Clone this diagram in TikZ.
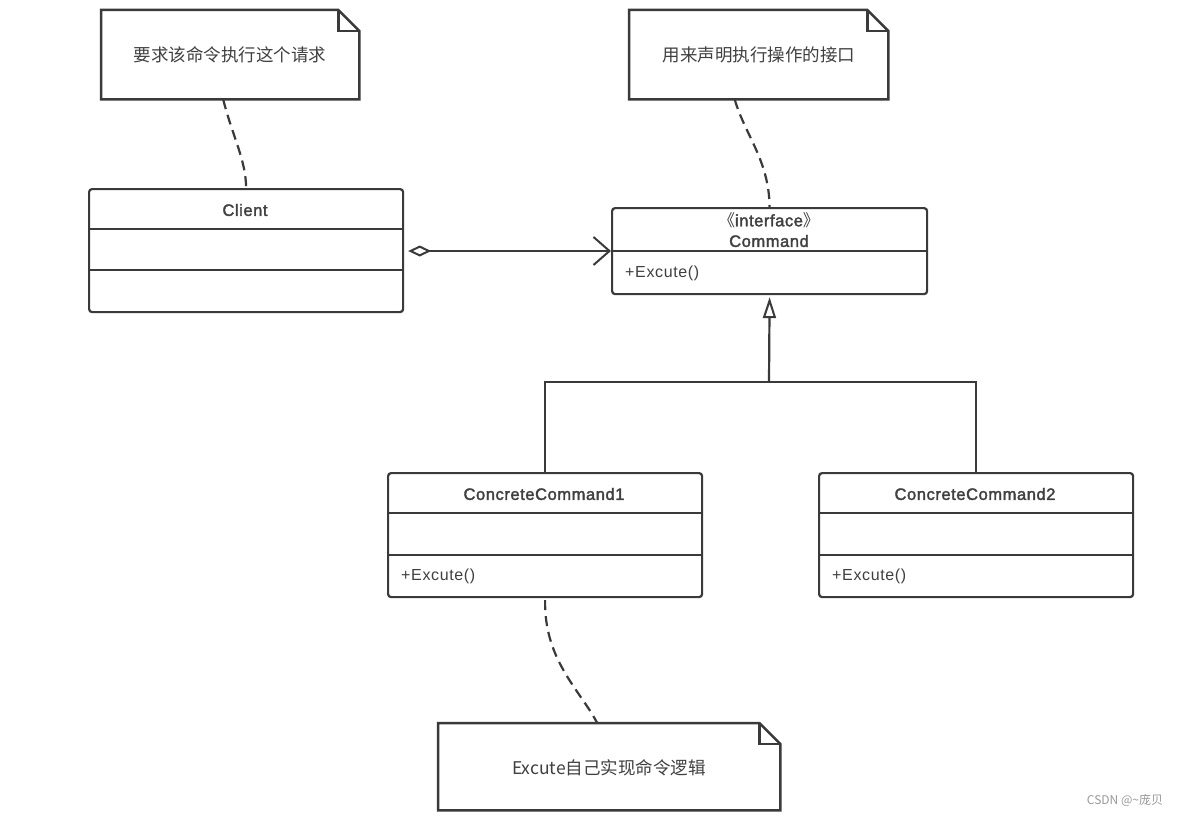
\documentclass[tikz,border=0pt]{standalone}
\usepackage{fontspec}
\setmainfont{Noto Sans CJK SC}
\newfontfamily\cjk{Noto Sans CJK SC}
\newfontfamily\lat[LetterSpace=4]{Liberation Sans}
\newfontfamily\latb[LetterSpace=3.5, FakeBold=2]{Liberation Sans}
\usetikzlibrary{arrows.meta}
\definecolor{ln}{HTML}{3A3A3A}
\definecolor{tx}{HTML}{404040}
\tikzset{
  cls/.style={draw=ln, line width=2.2pt, rounded corners=3pt, anchor=north west, inner sep=0pt},
  divider/.style={draw=ln, line width=2pt},
  ttl/.style={text=tx, font=\fontsize{16.5}{19}\latb, inner sep=0pt},
  mem/.style={text=tx, font=\fontsize{16}{19}\lat, inner sep=0pt, anchor=west},
  notebox/.style={anchor=north west, inner sep=0pt},
  notetext/.style={text=tx, font=\fontsize{17.5}{20}\cjk, inner sep=0pt},
  noteline/.style={draw=ln, line width=2.5pt, line join=miter},
  notelink/.style={draw=ln, line width=2.2pt, dash pattern=on 10pt off 6pt},
  conn/.style={draw=ln, line width=2.2pt},
}
\newcommand{\notepath}[1]{%
  \path[noteline] (#1.north west) -- ([xshift=-21pt]#1.north east) -- ([yshift=-21pt]#1.north east) -- (#1.south east) -- (#1.south west) -- cycle;
  \path[noteline] ([xshift=-21pt]#1.north east) |- ([yshift=-21pt]#1.north east);}
\begin{document}
\begin{tikzpicture}[x=1pt,y=-1pt]
\useasboundingbox[fill=white] (0,0) rectangle (1183,816);

% notes
\node[notebox, minimum width=258pt, minimum height=89pt] (n1) at (101,10) {};
\notepath{n1}
\node[notetext] (n1t) at (230,55) {要求该命令执行这个请求};

\node[notebox, minimum width=259pt, minimum height=89pt] (n2) at (629,10) {};
\notepath{n2}
\node[notetext] (n2t) at (759,55) {用来声明执行操作的接口};

\node[notebox, minimum width=342pt, minimum height=87pt] (n3) at (438,723) {};
\notepath{n3}
\node[notetext] (n3t) at (609,768) {Excute自己实现命令逻辑};

% Client
\node[cls, minimum width=314pt, minimum height=123pt] (client) at (88,188) {};
\draw[divider] (88,229) -- (402,229);
\draw[divider] (88,270) -- (402,270);
\node[ttl] (clientt) at (245,210) {Client};

% Command
\node[cls, minimum width=315pt, minimum height=86pt] (cmd) at (611,207) {};
\draw[divider] (611,251) -- (926,251);
\node[ttl] (cmdst) at (769,220) {{\cjk 《}interface{\cjk 》}};
\node[ttl] (cmdt) at (769,241) {Command};
\node[mem] (cmdm) at (625,273) {+Excute()};

% ConcreteCommand1
\node[cls, minimum width=314pt, minimum height=124pt] (cc1) at (387,472) {};
\draw[divider] (387,513) -- (701,513);
\draw[divider] (387,555) -- (701,555);
\node[ttl] (cc1t) at (544,494) {ConcreteCommand1};
\node[mem] (cc1m) at (401,576) {+Excute()};

% ConcreteCommand2
\node[cls, minimum width=314pt, minimum height=124pt] (cc2) at (818,472) {};
\draw[divider] (818,513) -- (1132,513);
\draw[divider] (818,555) -- (1132,555);
\node[ttl] (cc2t) at (975,494) {ConcreteCommand2};
\node[mem] (cc2m) at (832,576) {+Excute()};

% connectors
\draw[conn, {Diamond[open, length=23pt, width=11pt, line width=2pt]}-{Straight Barb[length=16pt, width=28pt, line width=2pt]}]
  ([xshift=4pt]client.east |- 0,251) -- (cmd.west |- 0,251);

\coordinate (join) at (769,382);
\draw[conn, -{Triangle[open, length=21pt, width=13pt, line width=2pt, fill=white]}] (join) -- ([yshift=-2pt]cmd.south);
\draw[conn] (cc1.north) |- (join) -| (cc2.north);

\path[notelink] ([xshift=-7pt]n1.south) .. controls (232,135) and (246,160) .. (client.north);
\path[notelink] ([xshift=-24pt]n2.south) .. controls (745,135) and (769,160) .. (cmd.north);
\path[notelink] ([yshift=-2pt]cc1.south) .. controls (544,660) and (580,690) .. ([xshift=-12pt]n3.north);

\node[text=gray!80, font=\fontsize{12}{14}\selectfont, inner sep=0pt] (wm) at (1125,800) {CSDN @\textasciitilde 庞贝};
\end{tikzpicture}
\end{document}
